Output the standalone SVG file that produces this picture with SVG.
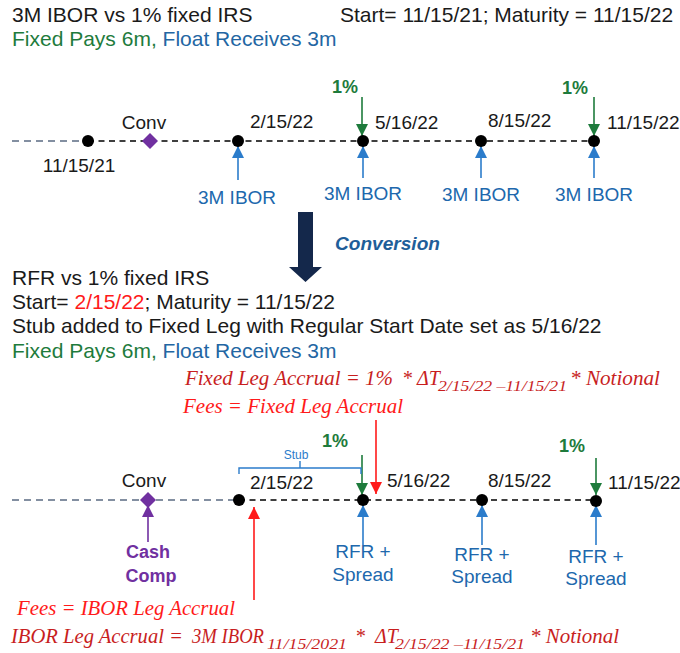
<svg xmlns="http://www.w3.org/2000/svg" width="680" height="653" viewBox="0 0 680 653">
<style>
.s{font-family:"Liberation Sans",Arial,sans-serif}
.h{font-size:21px;fill:#1a1a1a}
.l{font-size:19px;fill:#1a1a1a}
.gr{fill:#1e7b3c}
.bl{fill:#2366a3}
.pc{fill:#2068ad;font-size:19px}
.m{font-family:"Liberation Serif","Times New Roman",serif;font-style:italic;font-size:20px}
.dk{fill:#c81e1e}
.br{fill:#ff1a1a}
.dot{fill:#000}
.dash{stroke:#000;stroke-width:1.6;stroke-dasharray:6 4.5;fill:none}
.dashg{stroke:#5b6b82;stroke-width:1.6;stroke-dasharray:7 5;fill:none}
.ag{stroke:#1e7b3c;stroke-width:1.6;fill:none}
.ab{stroke:#2b7ccb;stroke-width:1.6;fill:none}
.ap{stroke:#7030a0;stroke-width:1.6;fill:none}
.ar{stroke:#ff1a1a;stroke-width:1.6;fill:none}
</style>
<defs>
<marker id="mg" viewBox="0 0 10 10" refX="10" refY="5" markerWidth="13" markerHeight="12" markerUnits="userSpaceOnUse" orient="auto"><path d="M0,0L10,5L0,10z" fill="#1e7b3c"/></marker>
<marker id="mb" viewBox="0 0 10 10" refX="10" refY="5" markerWidth="13" markerHeight="12" markerUnits="userSpaceOnUse" orient="auto"><path d="M0,0L10,5L0,10z" fill="#2b7ccb"/></marker>
<marker id="mp" viewBox="0 0 10 10" refX="10" refY="5" markerWidth="13" markerHeight="12" markerUnits="userSpaceOnUse" orient="auto"><path d="M0,0L10,5L0,10z" fill="#7030a0"/></marker>
<marker id="mr" viewBox="0 0 10 10" refX="10" refY="5" markerWidth="13" markerHeight="12" markerUnits="userSpaceOnUse" orient="auto"><path d="M0,0L10,5L0,10z" fill="#ff1a1a"/></marker>
</defs>

<g id="header1" class="s">
<text x="12" y="22" class="h">3M IBOR vs 1% fixed IRS</text>
<text x="340" y="22" class="h">Start= 11/15/21; Maturity = 11/15/22</text>
<text x="12" y="46" class="h"><tspan class="gr">Fixed Pays 6m, </tspan><tspan class="bl">Float Receives 3m</tspan></text>
</g>

<g id="connectors">
<line x1="12" y1="141" x2="88" y2="141" class="dashg"/>
<line x1="88" y1="141" x2="594" y2="141" class="dash"/>
<line x1="362" y1="97" x2="362" y2="136" class="ag" marker-end="url(#mg)"/>
<line x1="594" y1="97" x2="594" y2="136" class="ag" marker-end="url(#mg)"/>
<line x1="238" y1="180" x2="238" y2="146" class="ab" marker-end="url(#mb)"/>
<line x1="363" y1="178" x2="363" y2="146" class="ab" marker-end="url(#mb)"/>
<line x1="481" y1="178" x2="481" y2="146" class="ab" marker-end="url(#mb)"/>
<line x1="594" y1="178" x2="594" y2="146" class="ab" marker-end="url(#mb)"/>

<line x1="12" y1="500" x2="239" y2="500" class="dashg"/>
<line x1="239" y1="500" x2="596" y2="500" class="dash"/>
<line x1="362" y1="455" x2="362" y2="495" class="ag" marker-end="url(#mg)"/>
<line x1="596" y1="458" x2="596" y2="495" class="ag" marker-end="url(#mg)"/>
<line x1="376" y1="420" x2="376" y2="494" class="ar" marker-end="url(#mr)"/>
<line x1="254" y1="600" x2="254" y2="507" class="ar" marker-end="url(#mr)"/>
<line x1="148" y1="542" x2="148" y2="505" class="ap" marker-end="url(#mp)"/>
<line x1="363" y1="545" x2="363" y2="505" class="ab" marker-end="url(#mb)"/>
<line x1="482" y1="545" x2="482" y2="505" class="ab" marker-end="url(#mb)"/>
<line x1="596" y1="545" x2="596" y2="505" class="ab" marker-end="url(#mb)"/>
<path d="M239,474V468H361V474M300,468V461" stroke="#2b7ccb" stroke-width="1.4" fill="none"/>
</g>

<g id="t1-start" class="s"><circle cx="88" cy="141" r="6" class="dot"/><text x="79" y="172" class="l" text-anchor="middle">11/15/21</text></g>
<g id="t1-conv" class="s"><path d="M150,133L158,141L150,149L142,141z" fill="#7030a0"/><text x="144" y="129" class="l" text-anchor="middle">Conv</text></g>
<g id="t1-d1" class="s"><circle cx="238" cy="141" r="6" class="dot"/><text x="250" y="128" class="l">2/15/22</text><text x="237" y="204" class="pc" text-anchor="middle">3M IBOR</text></g>
<g id="t1-d2" class="s"><circle cx="363" cy="141" r="6" class="dot"/><text x="375" y="129" class="l">5/16/22</text><text x="345" y="93" class="gr" font-size="18" font-weight="bold" text-anchor="middle">1%</text><text x="363" y="200" class="pc" text-anchor="middle">3M IBOR</text></g>
<g id="t1-d3" class="s"><circle cx="481" cy="141" r="6" class="dot"/><text x="488" y="127" class="l">8/15/22</text><text x="481" y="201" class="pc" text-anchor="middle">3M IBOR</text></g>
<g id="t1-d4" class="s"><circle cx="594" cy="141" r="6" class="dot"/><text x="607" y="129" class="l">11/15/22</text><text x="575" y="94" class="gr" font-size="18" font-weight="bold" text-anchor="middle">1%</text><text x="594" y="201" class="pc" text-anchor="middle">3M IBOR</text></g>

<g id="conversion" class="s">
<path d="M298,212H313V267H322L305.5,282L289,267H298z" fill="#14284b"/>
<text x="335" y="250" font-size="18" font-weight="bold" font-style="italic" fill="#1f5e99" textLength="105" lengthAdjust="spacingAndGlyphs">Conversion</text>
</g>

<g id="header2" class="s">
<text x="12" y="285" class="h">RFR vs 1% fixed IRS</text>
<text x="12" y="309" class="h">Start= <tspan fill="#ff1a1a">2/15/22</tspan>; Maturity = 11/15/22</text>
<text x="12" y="333" class="h">Stub added to Fixed Leg with Regular Start Date set as 5/16/22</text>
<text x="12" y="358" class="h"><tspan class="gr">Fixed Pays 6m, </tspan><tspan class="bl">Float Receives 3m</tspan></text>
</g>

<g id="formula-fixed" class="m">
<text x="185" y="385" class="dk" textLength="208" lengthAdjust="spacingAndGlyphs">Fixed Leg Accrual = 1%</text>
<text x="402" y="385" class="dk">*</text>
<text x="417" y="385" class="dk">ΔT</text>
<text x="438" y="391" class="dk" font-size="15" textLength="129" lengthAdjust="spacingAndGlyphs">2/15/22 –11/15/21</text>
<text x="570" y="385" class="dk" textLength="90" lengthAdjust="spacingAndGlyphs">* Notional</text>
<text x="183" y="413" class="br" textLength="220" lengthAdjust="spacingAndGlyphs">Fees = Fixed Leg Accrual</text>
</g>

<g id="t2-conv" class="s"><path d="M148,492L156,500L148,508L140,500z" fill="#7030a0"/><text x="144" y="487" class="l" text-anchor="middle">Conv</text>
<text x="148" y="558" font-size="18" font-weight="bold" fill="#7030a0" text-anchor="middle">Cash</text>
<text x="151" y="582" font-size="18" font-weight="bold" fill="#7030a0" text-anchor="middle">Comp</text></g>
<g id="t2-d1" class="s"><circle cx="239" cy="500" r="6" class="dot"/><text x="250" y="489" class="l">2/15/22</text><text x="296" y="459" font-size="12" fill="#2b7ccb" text-anchor="middle">Stub</text></g>
<g id="t2-d2" class="s"><circle cx="363" cy="500" r="6" class="dot"/><text x="387" y="487" class="l">5/16/22</text><text x="335" y="447" class="gr" font-size="18" font-weight="bold" text-anchor="middle">1%</text>
<text x="363" y="558" class="pc" text-anchor="middle">RFR +</text><text x="363" y="581" class="pc" text-anchor="middle">Spread</text></g>
<g id="t2-d3" class="s"><circle cx="482" cy="500" r="6" class="dot"/><text x="488" y="487" class="l">8/15/22</text>
<text x="482" y="561" class="pc" text-anchor="middle">RFR +</text><text x="482" y="583" class="pc" text-anchor="middle">Spread</text></g>
<g id="t2-d4" class="s"><circle cx="596" cy="501" r="6" class="dot"/><text x="608" y="489" class="l">11/15/22</text><text x="572" y="452" class="gr" font-size="18" font-weight="bold" text-anchor="middle">1%</text>
<text x="596" y="563" class="pc" text-anchor="middle">RFR +</text><text x="596" y="585" class="pc" text-anchor="middle">Spread</text></g>

<g id="formula-ibor" class="m">
<text x="17" y="615" class="br" textLength="218" lengthAdjust="spacingAndGlyphs">Fees = IBOR Leg Accrual</text>
<text x="11" y="643" class="dk" textLength="172" lengthAdjust="spacingAndGlyphs">IBOR Leg Accrual =</text>
<text x="192" y="643" class="dk" textLength="72" lengthAdjust="spacingAndGlyphs">3M IBOR</text>
<text x="267" y="649" class="dk" font-size="15" textLength="80" lengthAdjust="spacingAndGlyphs">11/15/2021</text>
<text x="355" y="643" class="dk">*</text>
<text x="375" y="643" class="dk">ΔT</text>
<text x="395" y="649" class="dk" font-size="15" textLength="130" lengthAdjust="spacingAndGlyphs">2/15/22 –11/15/21</text>
<text x="530" y="643" class="dk" textLength="89" lengthAdjust="spacingAndGlyphs">* Notional</text>
</g>
</svg>
